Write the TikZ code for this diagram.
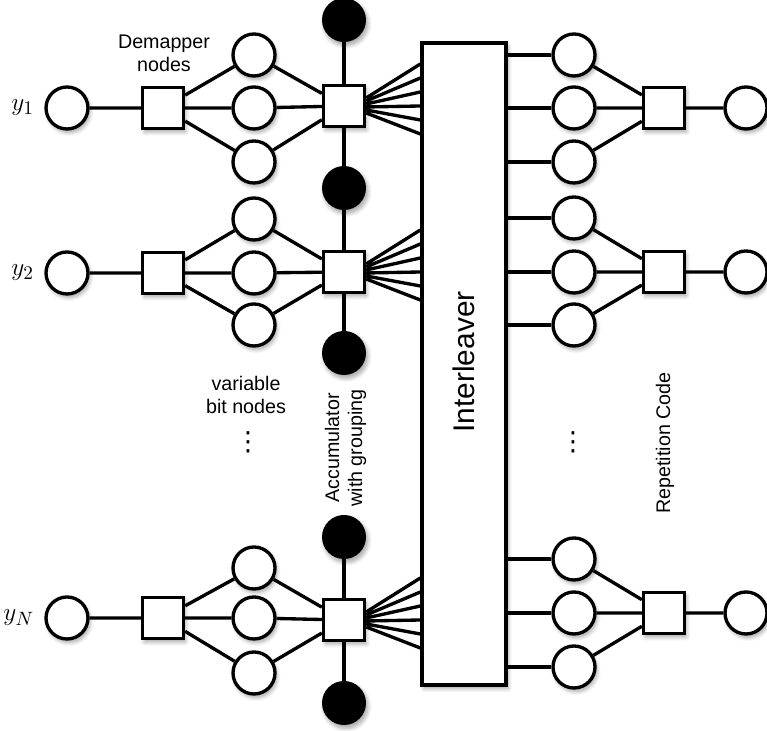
\documentclass[tikz,border=0pt]{standalone}
\usepackage{fontspec}
\newfontfamily\labelfont{Liberation Sans}
\newfontfamily\symfont{DejaVu Sans}
\usetikzlibrary{positioning,shadows.blur}
\tikzset{
  softshadow/.style={blur shadow={shadow xshift=0.04cm, shadow yshift=-0.07cm, shadow blur steps=6, shadow blur radius=0.08cm, shadow opacity=35}},
  bitnode/.style={circle, draw=black, fill=white, line width=1.9pt, minimum size=0.84cm, inner sep=0pt, softshadow},
  accbit/.style={circle, fill=black, minimum size=0.88cm, inner sep=0pt, softshadow},
  checknode/.style={rectangle, draw=black, fill=white, line width=1.9pt, minimum size=0.82cm, inner sep=0pt, softshadow},
  ileavebox/.style={rectangle, draw=black, fill=white, line width=1.9pt, minimum width=1.68cm, minimum height=12.84cm, inner sep=0pt, softshadow},
  edge/.style={line width=1.9pt, draw=black},
  textlabel/.style={font=\labelfont\fontsize{11.2}{13}\selectfont},
  dotlabel/.style={font=\symfont\fontsize{15}{17}\selectfont, inner sep=0pt},
  ylabel/.style={font=\fontsize{15}{17}\selectfont, inner sep=0pt},
}
\begin{document}
\begin{tikzpicture}
\useasboundingbox (0,0) rectangle (15.34,14.62);
% interleaver
\node[ileavebox] (ilv) at (9.28,7.34) {};
\node[font=\labelfont\fontsize{17}{20}\selectfont, rotate=90] (ilvlab) at (9.28,7.38) {Interleaver};
% accumulator chain
\node[accbit] (b0) at (6.88,14.22) {};
\node[accbit] (b1) at (6.88,10.86) {};
\node[accbit] (b2) at (6.88,7.56) {};
\node[accbit] (b3) at (6.88,3.88) {};
\node[accbit] (b4) at (6.88,0.56) {};
\node[checknode] (acc1) at (6.88,12.50) {};
\node[checknode] (acc2) at (6.88,9.18) {};
\node[checknode] (accN) at (6.88,2.22) {};
% row 1
\node[bitnode] (y1) at (1.34,12.46) {};
\node[ylabel, left=0.2cm of y1] (y1lab) {$y_1$};
\node[checknode] (dm1) at (3.26,12.46) {};
\node[bitnode] (v1a) at (5.08,13.52) {};
\node[bitnode] (v1b) at (5.08,12.46) {};
\node[bitnode] (v1c) at (5.08,11.38) {};
% row 2
\node[bitnode] (y2) at (1.34,9.16) {};
\node[ylabel, left=0.2cm of y2] (y2lab) {$y_2$};
\node[checknode] (dm2) at (3.26,9.16) {};
\node[bitnode] (v2a) at (5.08,10.24) {};
\node[bitnode] (v2b) at (5.08,9.16) {};
\node[bitnode] (v2c) at (5.08,8.12) {};
% row N
\node[bitnode] (yN) at (1.34,2.26) {};
\node[ylabel, left=0.2cm of yN] (yNlab) {$y_N$};
\node[checknode] (dmN) at (3.26,2.26) {};
\node[bitnode] (vNa) at (5.08,3.26) {};
\node[bitnode] (vNb) at (5.08,2.26) {};
\node[bitnode] (vNc) at (5.08,1.16) {};
% repetition code
\node[bitnode] (r1a) at (11.48,13.52) {};
\node[bitnode] (r1b) at (11.48,12.46) {};
\node[bitnode] (r1c) at (11.48,11.38) {};
\node[checknode] (rep1) at (13.28,12.46) {};
\node[bitnode] (out1) at (14.92,12.46) {};
\node[bitnode] (r2a) at (11.48,10.26) {};
\node[bitnode] (r2b) at (11.48,9.18) {};
\node[bitnode] (r2c) at (11.48,8.12) {};
\node[checknode] (rep2) at (13.28,9.18) {};
\node[bitnode] (out2) at (14.92,9.18) {};
\node[bitnode] (rNa) at (11.48,3.44) {};
\node[bitnode] (rNb) at (11.48,2.36) {};
\node[bitnode] (rNc) at (11.48,1.28) {};
\node[checknode] (repN) at (13.28,2.36) {};
\node[bitnode] (outN) at (14.92,2.36) {};
% labels
\node[textlabel, align=center] (demlab) at (3.28,13.56) {Demapper\\nodes};
\node[textlabel, align=center] (varlab) at (4.92,6.72) {variable\\bit nodes};
\node[dotlabel] (ldots) at (4.96,5.78) {⋮};
\node[textlabel, align=center, rotate=90] (acclab) at (6.91,5.66) {Accumulator\\with grouping};
\node[dotlabel] (rdots) at (11.46,5.78) {⋮};
\node[textlabel, rotate=90] (replab) at (13.30,5.76) {Repetition Code};
% edges left
\draw[edge] (y1) -- (dm1) (dm1) -- (v1a) (dm1) -- (v1b) (dm1) -- (v1c);
\draw[edge] (v1a) -- (acc1) (v1b) -- (acc1) (v1c) -- (acc1);
\draw[edge] (y2) -- (dm2) (dm2) -- (v2a) (dm2) -- (v2b) (dm2) -- (v2c);
\draw[edge] (v2a) -- (acc2) (v2b) -- (acc2) (v2c) -- (acc2);
\draw[edge] (yN) -- (dmN) (dmN) -- (vNa) (dmN) -- (vNb) (dmN) -- (vNc);
\draw[edge] (vNa) -- (accN) (vNb) -- (accN) (vNc) -- (accN);
\draw[edge] (b0) -- (acc1) -- (b1) -- (acc2) -- (b2);
\draw[edge] (b3) -- (accN) -- (b4);
% fans into interleaver
\draw[edge] ([yshift=0.16cm]acc1.east) -- ([yshift=0.84cm]acc1.east -| ilv.west)
  ([yshift=0.10cm]acc1.east) -- ([yshift=0.56cm]acc1.east -| ilv.west)
  ([yshift=0.04cm]acc1.east) -- ([yshift=0.28cm]acc1.east -| ilv.west)
  ([yshift=-0.02cm]acc1.east) -- ([yshift=0.00cm]acc1.east -| ilv.west)
  ([yshift=-0.08cm]acc1.east) -- ([yshift=-0.28cm]acc1.east -| ilv.west)
  ([yshift=-0.14cm]acc1.east) -- ([yshift=-0.56cm]acc1.east -| ilv.west);
\draw[edge] ([yshift=0.16cm]acc2.east) -- ([yshift=0.84cm]acc2.east -| ilv.west)
  ([yshift=0.10cm]acc2.east) -- ([yshift=0.56cm]acc2.east -| ilv.west)
  ([yshift=0.04cm]acc2.east) -- ([yshift=0.28cm]acc2.east -| ilv.west)
  ([yshift=-0.02cm]acc2.east) -- ([yshift=0.00cm]acc2.east -| ilv.west)
  ([yshift=-0.08cm]acc2.east) -- ([yshift=-0.28cm]acc2.east -| ilv.west)
  ([yshift=-0.14cm]acc2.east) -- ([yshift=-0.56cm]acc2.east -| ilv.west);
\draw[edge] ([yshift=0.16cm]accN.east) -- ([yshift=0.84cm]accN.east -| ilv.west)
  ([yshift=0.10cm]accN.east) -- ([yshift=0.56cm]accN.east -| ilv.west)
  ([yshift=0.04cm]accN.east) -- ([yshift=0.28cm]accN.east -| ilv.west)
  ([yshift=-0.02cm]accN.east) -- ([yshift=0.00cm]accN.east -| ilv.west)
  ([yshift=-0.08cm]accN.east) -- ([yshift=-0.28cm]accN.east -| ilv.west)
  ([yshift=-0.14cm]accN.east) -- ([yshift=-0.56cm]accN.east -| ilv.west);
% edges right
\draw[edge] (r1a -| ilv.east) -- (r1a) (r1b -| ilv.east) -- (r1b) (r1c -| ilv.east) -- (r1c);
\draw[edge] (r1a) -- (rep1) (r1b) -- (rep1) (r1c) -- (rep1) (rep1) -- (out1);
\draw[edge] (r2a -| ilv.east) -- (r2a) (r2b -| ilv.east) -- (r2b) (r2c -| ilv.east) -- (r2c);
\draw[edge] (r2a) -- (rep2) (r2b) -- (rep2) (r2c) -- (rep2) (rep2) -- (out2);
\draw[edge] (rNa -| ilv.east) -- (rNa) (rNb -| ilv.east) -- (rNb) (rNc -| ilv.east) -- (rNc);
\draw[edge] (rNa) -- (repN) (rNb) -- (repN) (rNc) -- (repN) (repN) -- (outN);
\end{tikzpicture}
\end{document}
